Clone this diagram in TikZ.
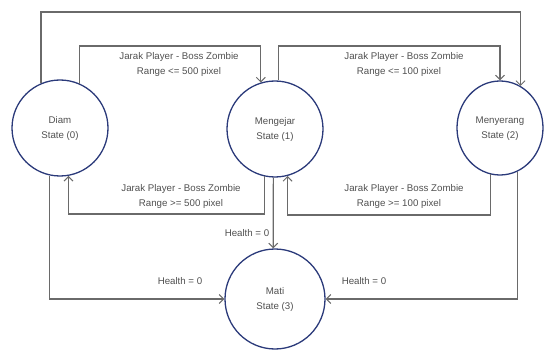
\documentclass[tikz,border=0pt]{standalone}
\usepackage{fontspec}
\setmainfont{Liberation Sans}
\usetikzlibrary{arrows.meta,shapes.geometric}
\definecolor{navy}{HTML}{2B3A7A}
\definecolor{conn}{HTML}{6A6A6A}
\definecolor{txt}{HTML}{505050}
\newcommand{\stxt}[2]{\raisebox{-2.5pt}{\begin{tabular}{@{}c@{}}#1\\#2\end{tabular}}}
\tikzset{
  statenode/.style={circle,draw=navy,line width=1.3pt,inner sep=0pt,align=center,text=txt,font=\fontsize{9.7}{15}\selectfont},
  link/.style={draw=conn,line width=1.1pt,-{Straight Barb[length=4.5pt,width=9pt,line width=1pt]}},
  lbl/.style={text=txt,align=center,inner sep=0pt,font=\fontsize{9.7}{15}\selectfont}
}
\begin{document}
\begin{tikzpicture}[x=1pt,y=-1pt]
\useasboundingbox (0,0) rectangle (544,350);
\node[statenode,minimum size=96pt] (diam) at (60,128) {\stxt{Diam}{State (0)}};
\node[statenode,minimum size=96pt] (meng) at (275,129) {\stxt{Mengejar}{State (1)}};
\node[ellipse,draw=navy,line width=1.3pt,inner sep=0pt,align=center,text=txt,font=\fontsize{9.7}{15}\selectfont,minimum width=86pt,minimum height=94pt] (meny) at (500,128) {\stxt{Menyerang}{State (2)}};
\node[statenode,minimum size=100pt] (mati) at (275,299) {\stxt{Mati}{State (3)}};
\coordinate (top) at (0,12);
\coordinate (high) at (0,46);
\coordinate (low) at (0,214);
\coordinate (low2) at (0,215);
% outer: Diam -> Menyerang
\draw[link] (diam.113.3) -- (diam.113.3 |- top) -| (meny.64.3);
% Diam -> Mengejar
\draw[link] (diam.66.7) -- (diam.66.7 |- high) -| (meng.107);
% Mengejar -> Menyerang
\draw[link] (meng.86.4) -- (meng.86.4 |- high) -| (meny.north);
% Mengejar -> Diam
\draw[link] (meng.-103.3) -- (meng.-103.3 |- low) -| (diam.-80.4);
% Menyerang -> Mengejar
\draw[link] (meny.-102.3) -- (meny.-102.3 |- low2) -| (meng.-75.5);
% to Mati
\draw[link] (meng.-92.4) -- (mati.92);
\draw[link] (diam.-102) |- (mati.west);
\draw[link] (meny.-68.5) |- (mati.east);
% labels
\node[lbl] (l1) at (179,64.5) {Jarak Player - Boss Zombie\\Range <= 500 pixel};
\node[lbl] (l2) at (404,64.5) {Jarak Player - Boss Zombie\\\hspace*{-10pt}Range <= 100 pixel};
\node[lbl] (l3) at (181,196) {Jarak Player - Boss Zombie\\Range >= 500 pixel};
\node[lbl] (l4) at (404,196) {Jarak Player - Boss Zombie\\\hspace*{-10pt}Range >= 100 pixel};
\node[lbl] (h1) at (247,233) {Health = 0};
\node[lbl] (h2) at (180,281) {Health = 0};
\node[lbl] (h3) at (364,281) {Health = 0};
\end{tikzpicture}
\end{document}
